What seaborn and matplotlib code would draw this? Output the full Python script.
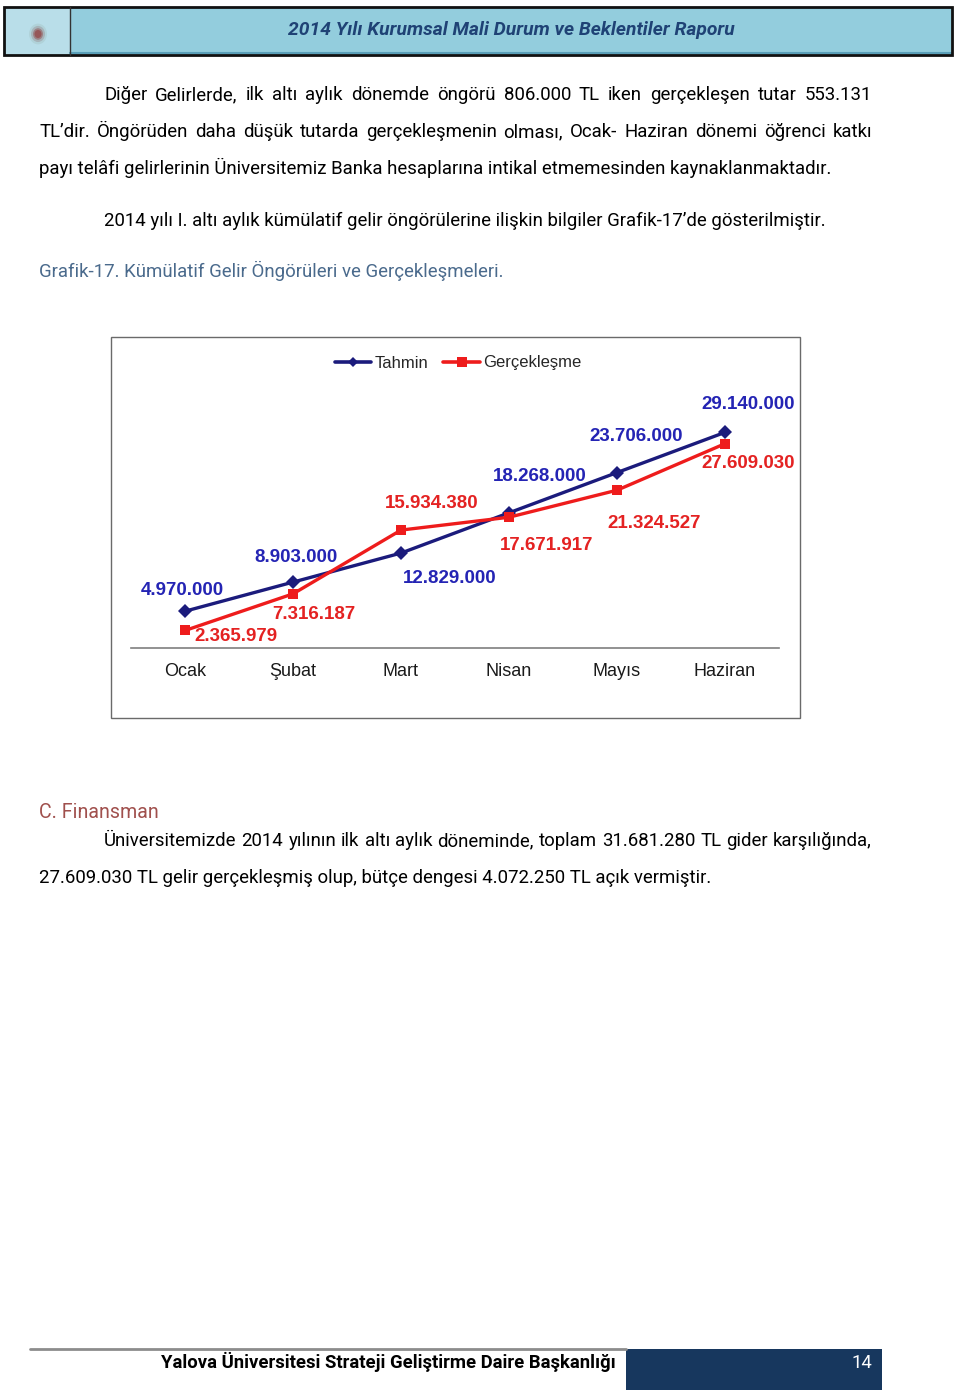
import numpy as np
import pandas as pd
import matplotlib
matplotlib.use("Agg")
import matplotlib.pyplot as plt
import seaborn as sns
from matplotlib.patches import Rectangle, Ellipse
from matplotlib.lines import Line2D

# ---------------- data ----------------
months = ["Ocak", "Şubat", "Mart", "Nisan", "Mayıs", "Haziran"]
tahmin = [4970000, 8903000, 12829000, 18268000, 23706000, 29140000]
gerceklesme = [2365979, 7316187, 15934380, 17671917, 21324527, 27609030]
series_names = ["Tahmin", "Gerçekleşme"]

header_title = "2014 Yılı Kurumsal Mali Durum ve Beklentiler Raporu"
para1 = [
    "Diğer Gelirlerde, ilk altı aylık dönemde öngörü 806.000 TL iken gerçekleşen tutar 553.131",
    "TL’dir. Öngörüden daha düşük tutarda gerçekleşmenin olması, Ocak- Haziran dönemi öğrenci katkı",
    "payı telâfi gelirlerinin Üniversitemiz Banka hesaplarına intikal etmemesinden kaynaklanmaktadır.",
]
para2 = "2014 yılı I. altı aylık kümülatif gelir öngörülerine ilişkin bilgiler Grafik-17’de gösterilmiştir."
caption = "Grafik-17. Kümülatif Gelir Öngörüleri ve Gerçekleşmeleri."
section = "C. Finansman"
para3 = [
    "Üniversitemizde 2014 yılının ilk altı aylık döneminde, toplam 31.681.280 TL gider karşılığında,",
    "27.609.030 TL gelir gerçekleşmiş olup, bütçe dengesi 4.072.250 TL açık vermiştir.",
]
footer_text = "Yalova Üniversitesi Strateji Geliştirme Daire Başkanlığı"
page_no = "14"

# label offsets (points) for value annotations
off_tahmin = [(-2, 15), (2, 18), (35, -18), (22, 26), (14, 26), (17, 20)]
off_gerc = [(37, -4), (15, -15), (22, 19), (27, -20), (27, -24), (17, -14)]


def fmt(v):
    return f"{v:,}".replace(",", ".")


# ---------------- figure ----------------
W, H = 960, 1397
sns.set_theme(style="white")
plt.rcParams["font.family"] = ["Roboto", "DejaVu Sans"]
BODY = ["Roboto", "DejaVu Sans"]
ARIAL = ["Liberation Sans", "DejaVu Sans"]

fig = plt.figure(figsize=(W / 100, H / 100), dpi=100)
fig.patch.set_facecolor("white")
page = fig.add_axes([0, 0, 1, 1])
page.set_xlim(0, W)
page.set_ylim(H, 0)
page.axis("off")
renderer = fig.canvas.get_renderer()


def tw(s, **kw):
    t = page.text(0, 0, s, **kw)
    w = t.get_window_extent(renderer).width
    t.remove()
    return w


def fit(s, width, base=12, **kw):
    return base * width / tw(s, fontsize=base, **kw)


def justified(line, x0, x1, yb, **kw):
    words = line.split(" ")
    ws = [tw(w, **kw) for w in words]
    gap = (x1 - x0 - sum(ws)) / (len(words) - 1)
    x = x0
    for w, wd in zip(words, ws):
        page.text(x, yb, w, va="baseline", ha="left", **kw)
        x += wd + gap


# ---------------- header ----------------
page.add_patch(Rectangle((4, 7), 948, 48, fc="#93cddd", ec="none", zorder=1))
page.add_patch(Rectangle((4, 7), 66, 48, fc="#b9dee9", ec="none", zorder=1))
page.plot([70, 952], [53, 53], color="#5a9fb8", lw=1.5, zorder=2)
page.add_patch(Rectangle((4, 7), 948, 48, fc="none", ec="#111111", lw=2, zorder=3))
page.plot([70, 70], [7, 55], color="#333333", lw=1, zorder=3)
for r, a, c in [(9, 0.15, "#7f8f7f"), (7, 0.25, "#8a5a5a"), (5, 0.45, "#8e4444"), (3.5, 0.6, "#943c3c")]:
    page.add_patch(Ellipse((38, 34), 2 * r, 2.3 * r, fc=c, ec="none", alpha=a, zorder=2))
tkw = dict(family=BODY, fontweight="bold", fontstyle="italic", color="#1f4275")
fs_t = fit(header_title, 444, **tkw)
page.text(511, 35, header_title, ha="center", va="baseline", fontsize=fs_t, **tkw)

# ---------------- body text ----------------
bkw = dict(family=BODY, color="black")
fs = fit(para1[2], 793, **bkw)
bkw["fontsize"] = fs
justified(para1[0], 104, 872, 100, **bkw)
justified(para1[1], 39, 872, 137, **bkw)
page.text(39, 174, para1[2], va="baseline", **bkw)
page.text(104, 226, para2, va="baseline", **bkw)
page.text(39, 277, caption, va="baseline", family=BODY, fontsize=fs, color="#4a6a8c")
page.text(39, 818, section, va="baseline", family=BODY, fontsize=fs * 1.05, color="#a0504d")
justified(para3[0], 104, 872, 846, **bkw)
page.text(39, 883, para3[1], va="baseline", **bkw)

# ---------------- footer ----------------
page.plot([30, 626], [1349, 1349], color="#8c8c8c", lw=2)
page.add_patch(Rectangle((626, 1349), 256, 41, fc="#17375e", ec="none"))
fkw = dict(family=BODY, fontweight="bold", color="black")
fs_f = fit(footer_text, 455, **fkw)
page.text(616, 1368, footer_text, ha="right", va="baseline", fontsize=fs_f, **fkw)
page.text(862, 1368, page_no, ha="center", va="baseline", family=BODY, fontsize=fs_f, color="white")

# ---------------- chart frame ----------------
page.add_patch(Rectangle((111, 337), 689, 381, fc="none", ec="#6a6a6a", lw=1))

# ---------------- chart ----------------
ax = fig.add_axes([131 / W, 1 - 648 / H, 648 / W, 259 / H])
ax.patch.set_alpha(0)
df = pd.DataFrame({
    "Ay": months * 2,
    "Değer": tahmin + gerceklesme,
    "Seri": [series_names[0]] * len(months) + [series_names[1]] * len(months),
})
NAVY, RED = "#1b1b7c", "#ee1c1c"
LBLUE, LRED = "#2424b4", "#e42222"
pal = {series_names[0]: NAVY, series_names[1]: RED}
sns.lineplot(data=df, x="Ay", y="Değer", hue="Seri", style="Seri",
             markers={series_names[0]: "D", series_names[1]: "s"}, dashes=False,
             palette=pal, sort=False, lw=2.4, markersize=7, markeredgewidth=0,
             ax=ax, legend=False)
for ln in ax.lines:
    if ln.get_marker() == "D":
        ln.set_markersize(7.5)
    else:
        ln.set_markersize(6.8)

ax.set_xlim(-0.5, len(months) - 0.5)
ax.set_ylim(0, 35e6)
ax.set_yticks([])
ax.set_xlabel("")
ax.set_ylabel("")
ax.set_xticks(range(len(months)))
ax.set_xticklabels(months, fontfamily=ARIAL, fontsize=13, color="#1a1a1a")
ax.tick_params(axis="x", length=0, pad=11)
for s in ["top", "right", "left"]:
    ax.spines[s].set_visible(False)
ax.spines["bottom"].set_color("#7f7f7f")
ax.spines["bottom"].set_linewidth(1.2)

lab_kw = dict(family=ARIAL, fontweight="bold", fontsize=13.5, ha="center", va="center",
              textcoords="offset points", annotation_clip=False)
for i, v in enumerate(tahmin):
    ax.annotate(fmt(v), (i, v), xytext=off_tahmin[i], color=LBLUE, **lab_kw)
for i, v in enumerate(gerceklesme):
    ax.annotate(fmt(v), (i, v), xytext=off_gerc[i], color=LRED, **lab_kw)

handles = [
    Line2D([], [], color=NAVY, lw=2.6, marker="D", markersize=5.5, markeredgewidth=0),
    Line2D([], [], color=RED, lw=2.6, marker="s", markersize=7, markeredgewidth=0),
]
fig.legend(handles, series_names, loc="center", bbox_to_anchor=(458 / W, 1 - 363 / H),
           ncol=2, frameon=False, prop={"family": ARIAL, "size": 12},
           handlelength=2.2, handletextpad=0.2, columnspacing=0.9, borderpad=0)

fig.savefig("out.png", dpi=100)
